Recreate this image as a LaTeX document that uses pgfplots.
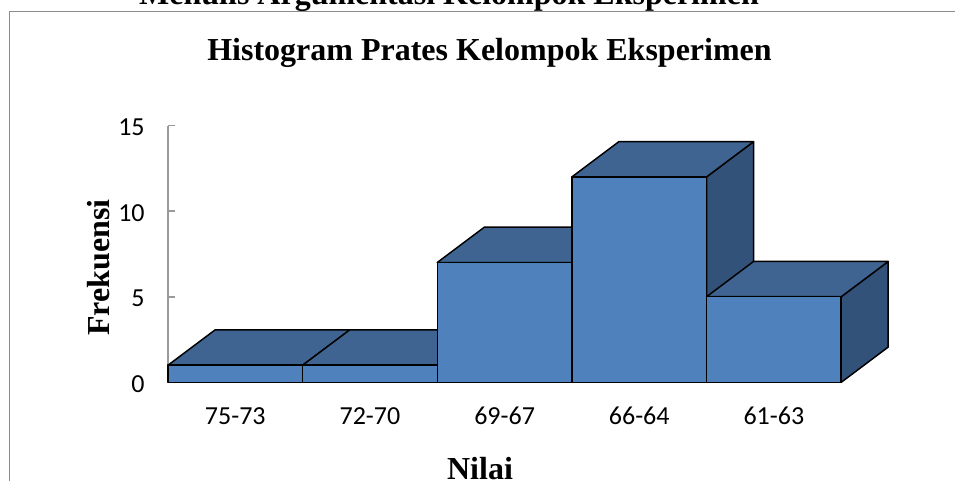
\documentclass[border=0pt]{standalone}
\usepackage{pgfplots}
\pgfplotsset{compat=1.18}
\usepackage{fontspec}
\setmainfont{Carlito}
\newfontfamily\timesfont{Liberation Serif}
\definecolor{barfront}{HTML}{4F81BD}
\definecolor{bartop}{HTML}{3F6491}
\definecolor{barside}{HTML}{325279}
\definecolor{framegray}{HTML}{8C8C8C}
\definecolor{axisgray}{HTML}{9A9A9A}
\pgfplotsset{
  front/.style={fill=barfront,draw=black,line width=1.1pt,line join=round},
  top/.style={fill=bartop,draw=black,line width=1.1pt,line join=round},
  side/.style={fill=barside,draw=black,line width=1.1pt,line join=round},
}
\begin{document}
\begin{tikzpicture}[x=0.75pt,y=0.75pt]
  \path[use as bounding box,clip] (0,0) rectangle (955,481);

  % heading of the page, cut by the image edge
  \node[anchor=base,inner sep=0pt] at (449,476) {\timesfont\bfseries\fontsize{24}{28}\selectfont Menulis Argumentasi Kelompok Eksperimen};

  % chart frame runs off the right and bottom edges
  \draw[framegray,line width=1.1pt] (9.5,-5) -- (9.5,469.5) -- (960,469.5);

  \node[anchor=base,inner sep=0pt] at (489.5,420) {\timesfont\bfseries\fontsize{24}{28}\selectfont Histogram Prates Kelompok Eksperimen};
  \node[anchor=base,inner sep=0pt,rotate=90] at (109.5,213.5) {\timesfont\bfseries\fontsize{24}{28}\selectfont Frekuensi};
  \node[anchor=base,inner sep=0pt] at (480,2) {\timesfont\bfseries\fontsize{24}{28}\selectfont Nilai};

  \begin{axis}[
    at={(126pt,74pt)},
    anchor=south west,
    scale only axis,
    width=504.9pt,
    height=192.6pt,
    xmin=0, xmax=5,
    ymin=0, ymax=15,
    clip=false,
    axis x line*=bottom,
    axis y line*=left,
    axis line style={axisgray,line width=1.6pt,-},
    xtick={0.5,1.5,2.5,3.5,4.5},
    xticklabels={75-73,72-70,69-67,66-64,61-63},
    ytick={0,5,10,15},
    /pgf/number format/assume math mode=true,
    tick label style={font=\fontsize{19.5}{22}\selectfont,black},
    x tick style={draw=none},
    y tick style={axisgray,line width=1.4pt},
    tickwidth=5.5pt,
    xticklabel style={yshift=-15pt,text height=13pt,text depth=0pt},
    yticklabel style={xshift=-14pt,yshift=-1.2pt},
  ]

  % 75-73
  \addplot[side] coordinates {(1,0) (1.349,2.06) (1.349,3.06) (1,1)} --cycle;
  \addplot[top] coordinates {(0,1) (1,1) (1.349,3.06) (0.349,3.06)} --cycle;
  \addplot[front] coordinates {(0,0) (1,0) (1,1) (0,1)} --cycle;

  % 72-70
  \addplot[side] coordinates {(2,0) (2.349,2.06) (2.349,3.06) (2,1)} --cycle;
  \addplot[top] coordinates {(1,1) (2,1) (2.349,3.06) (1.349,3.06)} --cycle;
  \addplot[front] coordinates {(1,0) (2,0) (2,1) (1,1)} --cycle;

  % 69-67
  \addplot[side] coordinates {(3,0) (3.349,2.06) (3.349,9.06) (3,7)} --cycle;
  \addplot[top] coordinates {(2,7) (3,7) (3.349,9.06) (2.349,9.06)} --cycle;
  \addplot[front] coordinates {(2,0) (3,0) (3,7) (2,7)} --cycle;

  % 66-64
  \addplot[side] coordinates {(4,0) (4.349,2.06) (4.349,14.06) (4,12)} --cycle;
  \addplot[top] coordinates {(3,12) (4,12) (4.349,14.06) (3.349,14.06)} --cycle;
  \addplot[front] coordinates {(3,0) (4,0) (4,12) (3,12)} --cycle;

  % 61-63
  \addplot[side] coordinates {(5,0) (5.349,2.06) (5.349,7.06) (5,5)} --cycle;
  \addplot[top] coordinates {(4,5) (5,5) (5.349,7.06) (4.349,7.06)} --cycle;
  \addplot[front] coordinates {(4,0) (5,0) (5,5) (4,5)} --cycle;

  \end{axis}
\end{tikzpicture}
\end{document}
